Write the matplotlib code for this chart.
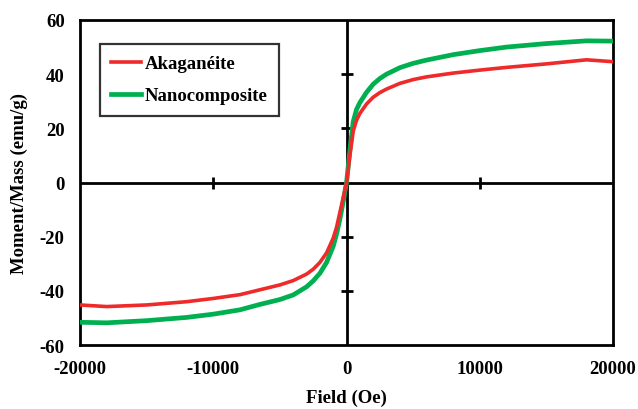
import matplotlib
matplotlib.use('Agg')
import matplotlib.pyplot as plt

# ── Dados ─────────────────────────────────────────────────────────────────────
field = [-20000, -18000, -15000, -12000, -10000, -8000, -6500, -5000, -4000,
         -3000, -2500, -2000, -1500, -1000, -750, -500, -250, 0, 250, 500, 750,
         1000, 1500, 2000, 2500, 3000, 4000, 5000, 6000, 8000, 10000, 12000,
         15000, 18000, 20000]

akaganeite = [-45.2, -45.8, -45.2, -44.0, -42.8, -41.4, -39.6, -37.8, -36.2,
              -33.8, -32.0, -29.5, -26.0, -20.5, -16.5, -11.0, -5.5, 0.0, 10.0,
              19.0, 23.0, 25.5, 29.0, 31.5, 33.2, 34.5, 36.6, 38.0, 39.0, 40.4,
              41.5, 42.5, 43.8, 45.3, 44.6]

nanocomposite = [-51.6, -51.8, -51.0, -49.8, -48.6, -47.0, -45.0, -43.2, -41.5,
                 -38.5, -36.3, -33.5, -29.5, -23.5, -19.0, -13.5, -7.0, 0.0,
                 12.0, 22.5, 27.0, 29.5, 33.3, 36.3, 38.4, 40.0, 42.4, 44.0,
                 45.2, 47.2, 48.7, 50.0, 51.3, 52.3, 52.2]

x_ticks = [-20000, -10000, 0, 10000, 20000]
y_ticks = [-60, -40, -20, 0, 20, 40, 60]
x_inner = [-10000, 10000]          # marcas no eixo central horizontal
y_inner = [-40, -20, 20, 40]       # marcas no eixo central vertical

plt.rcParams['font.family'] = ['Liberation Serif', 'DejaVu Serif']
plt.rcParams['font.weight'] = 'bold'
plt.rcParams['axes.unicode_minus'] = False

fig = plt.figure(figsize=(6.38, 4.10), dpi=100)
ax = fig.add_axes([0.1254, 0.156, 0.8356, 0.7928])

ax.plot(field, akaganeite, color='#ee2a2b', lw=2.6, label='Akaganéite', zorder=4)
ax.plot(field, nanocomposite, color='#00b050', lw=3.4, label='Nanocomposite', zorder=3)

ax.set_xlim(-20000, 20000)
ax.set_ylim(-60, 60)
ax.set_xticks(x_ticks)
ax.set_yticks(y_ticks)
ax.tick_params(length=0, labelsize=13.5, pad=11)
for lbl in ax.get_xticklabels() + ax.get_yticklabels():
    lbl.set_fontweight('bold')
for sp in ax.spines.values():
    sp.set_linewidth(2.0)

# eixos centrais cruzando em zero
ax.axhline(0, color='black', lw=2.0, zorder=2)
ax.axvline(0, color='black', lw=2.0, zorder=2)
ax.plot(x_inner, [0] * len(x_inner), ls='none', marker='|', ms=9, mew=2, color='black', zorder=2)
ax.plot([0] * len(y_inner), y_inner, ls='none', marker='_', ms=9, mew=2, color='black', zorder=2)

ax.set_xlabel('Field (Oe)', fontsize=13.5, fontweight='bold')
ax.set_ylabel('Moment/Mass (emu/g)', fontsize=13.5, fontweight='bold')
ax.xaxis.set_label_coords(0.5, -0.135)
ax.yaxis.set_label_coords(-0.098, 0.5)

leg = ax.legend(loc='upper left', bbox_to_anchor=(0.02, 0.955), fontsize=13.5,
                frameon=True, fancybox=False, handlelength=1.6, handletextpad=0.2,
                borderpad=0.6, labelspacing=0.8)
leg.get_frame().set_edgecolor('black')
leg.get_frame().set_linewidth(1.6)
for t in leg.get_texts():
    t.set_fontweight('bold')

fig.savefig('out.png', dpi=100)
